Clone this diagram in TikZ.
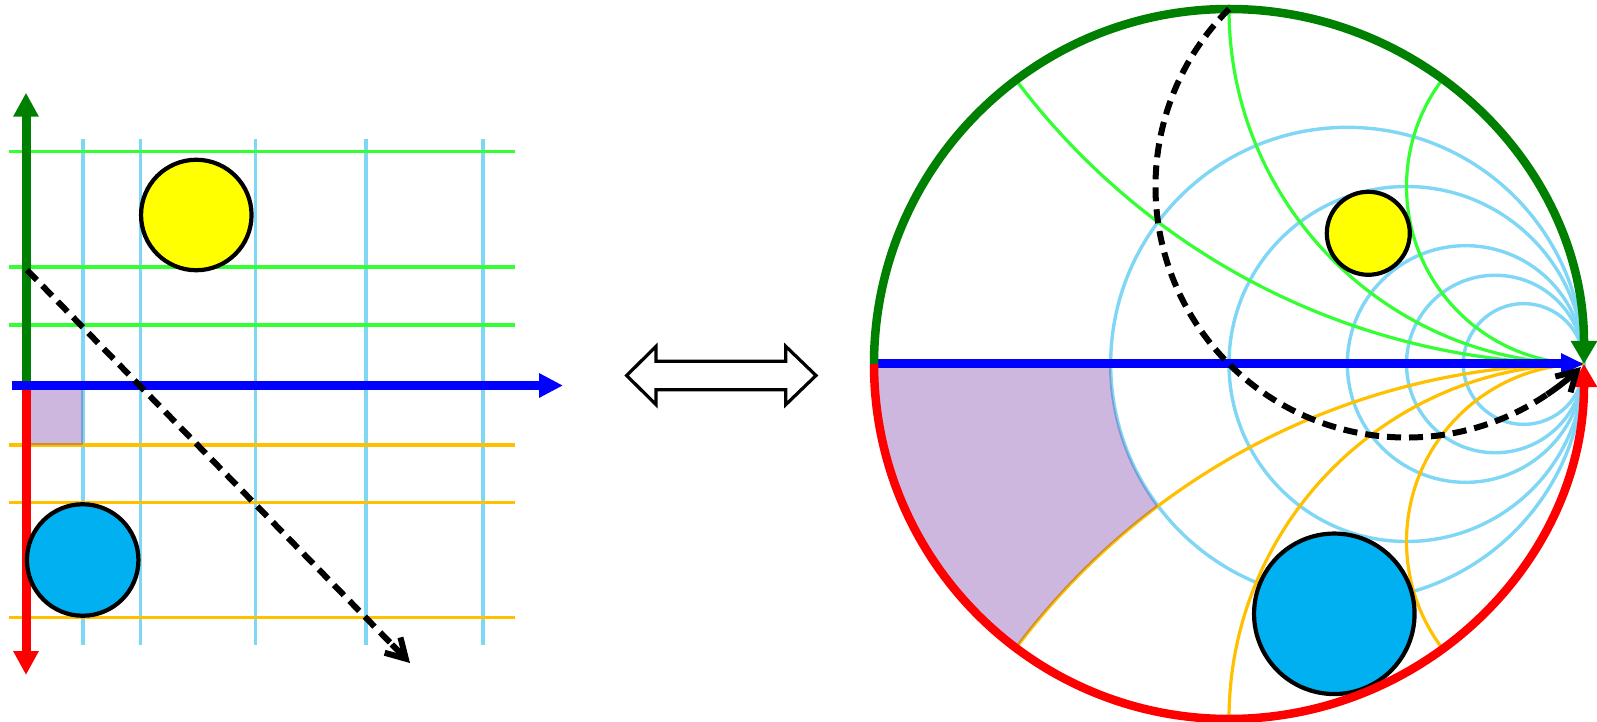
\documentclass[tikz,border=0pt]{standalone}
\usetikzlibrary{arrows.meta,calc}
\definecolor{axgreen}{RGB}{0,128,0}
\definecolor{lgreen}{RGB}{51,255,51}
\definecolor{lcyan}{RGB}{128,214,245}
\definecolor{lorange}{RGB}{255,192,0}
\definecolor{lpurple}{RGB}{112,48,160}
\definecolor{ballblue}{RGB}{0,176,240}
\definecolor{ballyellow}{RGB}{255,255,0}
\definecolor{axred}{RGB}{255,0,0}
\definecolor{axblue}{RGB}{0,0,255}
\begin{document}
\begin{tikzpicture}[x=1pt,y=1pt,
  gridg/.style={lgreen, line width=3.6pt},
  gridc/.style={lcyan, line width=3.6pt},
  grido/.style={lorange, line width=3.6pt},
  sgridg/.style={lgreen, line width=3.2pt},
  sgridc/.style={lcyan, line width=3.4pt},
  sgrido/.style={lorange, line width=3.2pt},
  region/.style={fill=lpurple, fill opacity=0.35},
  ball/.style={circle, draw=black, line width=4.2pt, inner sep=0pt},
  axisline/.style={line width=9pt},
  ring/.style={line width=8.5pt},
  dashline/.style={black, line width=6pt, dash pattern=on 14pt off 8pt},
  barbtip/.style={black, line width=6pt, line cap=butt,
    -{Straight Barb[length=19pt,width=22pt]}},
  bigarrow/.style={draw=black, line width=3.2pt, fill=white, line join=miter},
]
\useasboundingbox (0,0) rectangle (1597,721);

% ---------------- left panel ----------------
\coordinate (O) at (26,335.5);
\coordinate (gtip) at (26,628.3);
\coordinate (rtip) at (26,46);
\coordinate (bstart) at (11.7,335.5);
\coordinate (btip) at (563,335.5);
\coordinate (dstart) at (27,451);
\coordinate (dend) at (410,58);
\coordinate (dpre) at ($(dend)!26pt!(dstart)$);

\foreach \x in {82.7,140.3,255.3,365.7,482.7}
  \draw[gridc] (\x,581.7) -- (\x,76.3);
\foreach \y in {569.3,453.7,396}
  \draw[gridg] (9.3,\y) -- (514.7,\y);
\foreach \y in {276.3,218.7,103.7}
  \draw[grido] (9.3,\y) -- (514.7,\y);

\fill[region] (O) rectangle (82.7,276.3);

\draw[axisline, axgreen, -{Triangle[length=24pt,width=24pt]}] (O) -- (gtip);
\draw[axisline, axred, -{Triangle[length=24pt,width=24pt]}] (O) -- (rtip);
\draw[axisline, axblue, -{Triangle[length=24pt,width=23pt]}] (bstart) -- (btip);

\node[ball, fill=ballyellow, minimum size=110.5pt] (yleft) at (196.3,506) {};
\node[ball, fill=ballblue, minimum size=111.5pt] (bleft) at (82.7,161) {};

\draw[dashline] (dstart) -- (dpre);
\draw[barbtip] (dpre) -- (dend);

% ---------------- double arrow ----------------
\draw[bigarrow] (626.7,345.5) -- (656,374.7) -- (656,359.7) -- (785.7,359.7)
  -- (785.7,374.7) -- (816,345.5) -- (785.7,316.3) -- (785.7,331.3)
  -- (656,331.3) -- (656,316.3) -- cycle;

% ---------------- Smith chart ----------------
\begin{scope}[shift={(1229,357)}, x=355pt, y=355pt]
  \coordinate (G0) at (-1,0);
  \coordinate (G1) at (1,0);
  \coordinate (Gtop) at (0,1);
  \foreach \a in {-0.33333,0,0.33333,0.5,0.66}
    \draw[sgridc] ({(1+\a)/2},0) circle ({(1-\a)/2});
  \begin{scope}
    \clip (0,0) circle (1);
    \foreach \r in {2,1,0.5} {
      \draw[sgridg] (1,\r) circle (\r);
      \draw[sgrido] (1,-\r) circle (\r);
    }
  \end{scope}
  \fill[region] (G0) arc[start angle=180, end angle=233.1301, radius=1]
    arc[start angle=143.1301, end angle=126.8699, radius=2]
    arc[start angle=216.8699, end angle=180, radius=0.66667] -- cycle;
\end{scope}

\node[ball, fill=ballyellow, minimum size=83pt] (yright) at (1368.3,487.7) {};
\node[ball, fill=ballblue, minimum size=160.5pt] (bright) at (1334.3,107.2) {};

\begin{scope}[shift={(1229,357)}, x=355pt, y=355pt]
  \draw[axisline, axblue, -{Triangle[length=23pt,width=20pt]}] (G0) -- (G1);
  \draw[ring, axgreen, -{Triangle[length=23pt,width=25pt]}] (G0) arc[start angle=180, end angle=0, radius=1];
  \draw[ring, axred, -{Triangle[length=23pt,width=25pt]}] (G0) arc[start angle=180, end angle=360, radius=1];
  \draw[dashline] (Gtop) arc[start angle=135, end angle=304, radius=0.70711];
  \draw[barbtip] ($(0.5,0.5)+(304:0.70711)$) arc[start angle=304, end angle=314, radius=0.70711];
\end{scope}
\end{tikzpicture}
\end{document}
